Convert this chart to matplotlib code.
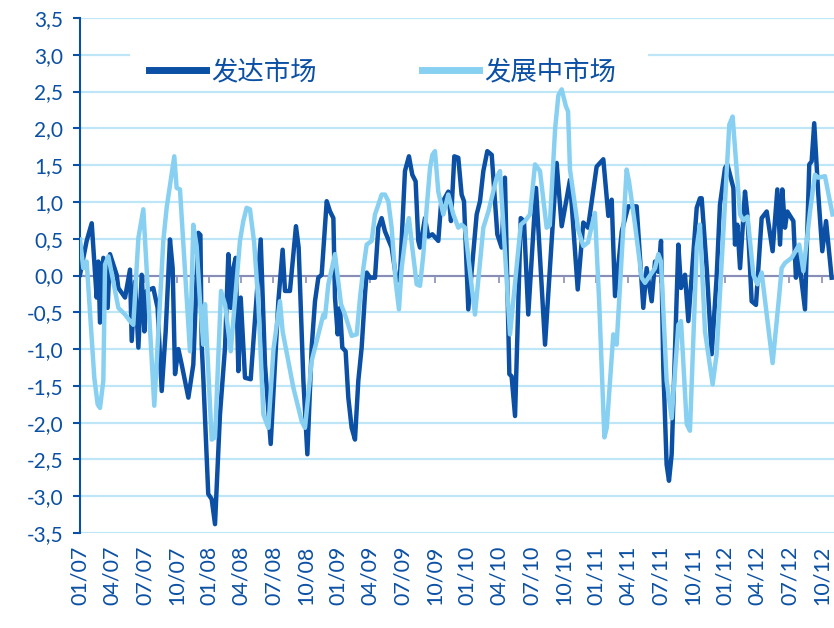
import matplotlib

matplotlib.use("Agg")
import matplotlib.pyplot as plt
import numpy as np
from matplotlib.patches import Rectangle

plt.rcParams["font.family"] = ["Lato", "Noto Sans CJK SC", "DejaVu Sans"]
plt.rcParams["axes.unicode_minus"] = False

DARK = "#0b50a4"
LIGHT = "#88d0f2"
GRID = "#bfe6f7"
ZERO = "#8a8db5"

# months since Jan 2007
dev_month = [
    0.0, 0.62, 1.09, 1.55, 1.71, 1.86, 2.17, 2.57, 2.79, 3.41, 3.57, 4.19, 4.65, 4.81,
    5.12, 5.43, 5.74, 5.99, 6.2, 6.82, 7.22, 7.6, 7.97, 8.37, 8.62, 8.84, 9.15, 9.46,
    10.08, 10.54, 11.01, 11.2, 11.32, 11.47, 11.93, 12.25, 12.56, 13.02, 13.49, 13.8,
    14.02, 14.26, 14.48, 14.73, 14.95, 15.35, 15.88, 16.81, 17.21, 17.74, 18.45, 18.85,
    19.07, 19.53, 20.09, 20.34, 20.78, 21.15, 21.55, 21.86, 22.17, 22.48, 22.95, 23.26,
    23.57, 23.72, 23.97, 24.19, 24.4, 24.71, 24.96, 25.27, 25.58, 25.89, 26.2, 26.51,
    26.67, 26.98, 27.44, 27.75, 28.06, 28.37, 28.99, 29.46, 29.77, 30.23, 30.6, 30.91,
    31.22, 31.47, 31.63, 32.09, 32.4, 32.78, 33.33, 33.58, 34.26, 34.51, 34.82, 35.19,
    35.5, 35.72, 36.12, 36.9, 37.21, 37.52, 37.89, 38.3, 38.82, 39.22, 39.53, 39.94,
    40.15, 40.47, 41.0, 41.3, 41.7, 42.42, 43.26, 44.34, 44.81, 45.58, 46.3, 46.82,
    47.26, 48.06, 48.68, 49.15, 49.46, 49.77, 50.4, 51.0, 51.78, 52.4,
    52.71, 53.18, 53.49, 53.8, 54.05, 54.26, 54.57, 54.79, 55.04, 55.66, 55.91, 56.28,
    56.59, 57.37, 57.67, 57.83, 58.05, 58.3, 58.76, 59.22, 59.53, 60.0, 60.22, 60.78,
    60.93, 61.15, 61.4, 61.86, 62.08, 62.48, 62.88, 63.41, 63.88, 64.43, 64.87, 65.12,
    65.33, 65.58, 65.8, 66.36, 66.6, 66.82, 67.44, 67.84, 68.06, 68.3, 68.68, 69.05,
    69.4, 69.92,
]
dev_value = [
    0.01, 0.47, 0.71, -0.3, 0.19, -0.64, 0.24, -0.44, 0.29, 0.01, -0.17, -0.3, 0.08, -0.89,
    -0.08, -0.98, 0.01, -0.76, -0.21, -0.17, -0.44, -1.57, -0.76, 0.49, 0.1, -1.34, -1.0, -1.21,
    -1.66, -1.21, 0.58, 0.55, -0.94, -1.39, -2.97, -3.04, -3.38, -1.89, -0.98, 0.29,
    -0.44, 0.1, 0.24, -1.3, -0.3, -1.39, -1.41, 0.49, -1.21, -2.29, -0.35, 0.35,
    -0.21, -0.21, 0.67, 0.38, -1.43, -2.43, -0.98, -0.35, -0.03, 0.01, 1.01, 0.87,
    0.78, -0.3, -0.8, -0.44, -0.98, -1.03, -1.66, -2.07, -2.23, -1.43, -0.98, -0.26,
    0.04, -0.03, -0.03, 0.65, 0.78, 0.6, 0.38, -0.08, 0.01, 1.42, 1.62, 1.37,
    1.28, 0.47, 0.38, 0.78, 0.53, 0.56, 0.47, 0.96, 1.14, 0.74, 1.62, 1.6,
    1.1, 1.01, -0.46, 0.83, 1.01, 1.42, 1.69, 1.64, 0.56, 0.38, 1.33, -1.34,
    -1.37, -1.91, 0.78, 0.74, -0.53, 1.19, -0.94, 1.53, 0.67, 1.3, -0.19, 0.72,
    0.65, 1.48, 1.58, 0.81, 1.03, -0.28, 0.6, 0.94, 0.94, -0.44,
    0.1, -0.35, 0.19, 0.05, 0.47, -1.25, -2.57, -2.79, -2.43, 0.42, -0.17, 0.01,
    -0.62, 0.92, 1.05, 1.05, 0.6, 0.1, -1.07, -0.03, 0.96, 1.46, 1.51, 1.19,
    0.42, 0.69, 0.1, 1.14, 0.83, -0.35, -0.4, 0.78, 0.87, 0.33, 1.17, 0.42,
    1.17, 0.65, 0.87, 0.74, -0.03, 0.29, -0.46, 1.51, 1.55, 2.07, 1.1, 0.33,
    0.74, -0.03,
]

emg_month = [
    0.0, 0.31, 0.62, 1.33, 1.64, 1.86, 2.17, 2.33, 2.64, 3.26, 3.57, 4.19, 4.65, 4.96,
    5.43, 5.89, 6.91, 7.75, 8.06, 8.77, 8.99, 9.3, 10.23, 10.54, 10.85, 11.16, 11.47,
    11.63, 12.25, 12.56, 13.12, 13.5, 14.02, 14.88, 15.19, 15.5, 15.81, 16.2, 16.6,
    17.06, 17.52, 18.0, 18.6, 18.85, 19.84, 20.62, 20.93, 21.55, 22.17, 22.64, 22.79,
    23.1, 23.72, 24.28, 24.65, 25.27, 25.74, 26.05, 26.36, 26.67, 27.13, 27.44, 27.75,
    28.06, 28.37, 28.68, 28.99, 29.36, 29.67, 29.92, 30.39, 30.6, 30.91, 31.32, 31.63,
    31.94, 32.25, 32.56, 32.78, 33.02, 33.33, 33.8, 34.26, 34.73, 35.19, 35.5, 35.81,
    36.74, 37.52, 37.99, 38.76, 39.07, 40.0, 41.0, 41.4, 41.86, 42.33, 42.79, 43.41,
    43.7, 44.2, 44.5, 44.81, 45.2, 45.4, 45.58, 46.0, 46.35, 46.82, 47.26, 47.6, 47.9,
    48.3, 48.78, 49.0, 49.61, 49.92, 50.85, 51.07, 51.63, 52.25, 52.56, 53.49, 53.8, 54.05,
    54.57, 55.04, 55.66, 55.91, 56.44, 56.74, 57.37, 57.67, 58.14, 58.85, 59.22, 60.4,
    60.71, 61.4, 61.7, 62.1, 62.64, 63.01, 63.41, 64.43, 65.05, 65.27, 65.58, 66.2,
    66.91, 67.29, 67.91, 68.37, 68.68, 69.3, 70.0,
]
emg_value = [
    0.49, 0.1, 0.19, -1.39, -1.75, -1.8, -1.43, 0.15, 0.26, -0.21, -0.44, -0.53, -0.62, -0.67,
    0.51, 0.9, -1.77, 0.47, 0.92, 1.62, 1.19, 1.17, -1.03, 0.69, 0.4, -0.35, -0.94,
    -0.39, -2.23, -2.2, -0.21, -0.4, -1.03, 0.47, 0.74, 0.92, 0.9, 0.45, -0.4,
    -1.89, -2.07, -1.0, -0.35, -0.76, -1.52, -1.98, -2.07, -1.16, -0.8, -0.53, -0.57,
    -0.12, 0.29, -0.39, -0.53, -0.82, -0.8, -0.3, 0.1, 0.42, 0.47, 0.83, 0.96,
    1.1, 1.1, 1.01, 0.65, -0.08, -0.46, 0.1, 0.65, 0.78, 0.38, -0.12, -0.14,
    0.29, 0.92, 1.46, 1.64, 1.69, 1.14, 0.83, 1.1, 0.83, 0.65, 0.69, 0.65,
    -0.53, 0.65, 0.87, 1.33, 1.42, -0.8, 0.69, 0.74, 0.83, 1.51, 1.42, 0.65,
    0.68, 2.0, 2.45, 2.53, 2.3, 2.23, 1.44, 1.0, 0.62, 0.4, 0.45, 0.67, 0.85,
    -0.37, -2.2, -2.07, -0.8, -0.94, 1.44, 1.28, 0.69, -0.03, -0.1, 0.1, 0.29, 0.19,
    -1.43, -1.94, -0.67, -0.62, -2.02, -2.11, 0.38, 0.69, -0.76, -1.48, -1.07, 2.05,
    2.16, 0.83, 0.75, 0.8, 0.01, -0.12, 0.04, -1.19, -0.26, 0.1, 0.17, 0.24,
    0.42, 0.06, 0.87, 1.37, 1.33, 1.35, 0.83,
]

tick_labels = [
    "01/07", "04/07", "07/07", "10/07", "01/08", "04/08", "07/08", "10/08",
    "01/09", "04/09", "07/09", "10/09", "01/10", "04/10", "07/10", "10/10",
    "01/11", "04/11", "07/11", "10/11", "01/12", "04/12", "07/12", "10/12",
]
tick_pos = np.arange(len(tick_labels)) * 3
y_ticks = np.arange(-3.5, 3.51, 0.5)

fig = plt.figure(figsize=(8.34, 6.28), dpi=100)
ax = fig.add_axes([80 / 834, 1 - 533 / 628, 754 / 834, 515 / 628])
ax.set_xlim(0, 70.14)
ax.set_ylim(-3.5, 3.5)

ax.plot(dev_month, dev_value, color=DARK, lw=3.2, label="发达市场", zorder=3,
        solid_joinstyle="round")
ax.plot(emg_month, emg_value, color=LIGHT, lw=3.2, label="发展中市场", zorder=4,
        solid_joinstyle="round")
ax.axhline(0, color=ZERO, lw=1.5, zorder=2)

ax.set_yticks(y_ticks)
ax.set_yticklabels([f"{v:.1f}".replace(".", ",") for v in y_ticks])
ax.yaxis.grid(True, color=GRID, lw=1.6)
ax.set_axisbelow(True)
for side in ["top", "right", "bottom"]:
    ax.spines[side].set_visible(False)
ax.spines["left"].set_color(DARK)
ax.spines["left"].set_linewidth(1.5)
ax.tick_params(axis="y", direction="out", length=5, width=1.5, color=DARK,
               labelcolor=DARK, labelsize=15, pad=7)

ax.set_xticks(tick_pos)
ax.set_xticklabels(tick_labels, rotation=90)
ax.tick_params(axis="x", length=0, labelcolor=DARK, labelsize=15.5, pad=9)

# small tick marks hanging from the zero line
zero_ax = ax.secondary_xaxis(0.4999)
zero_ax.set_xticks(tick_pos)
zero_ax.set_xticklabels([])
zero_ax.tick_params(direction="out", length=5, width=1.2, color=ZERO)
for sp in zero_ax.spines.values():
    sp.set_visible(False)

# white panel behind the legend hides the 3,0 grid line
ax.add_patch(Rectangle((50 / 754, (533 - 88) / 515), 518 / 754, 40 / 515,
                       transform=ax.transAxes, facecolor="white", edgecolor="none",
                       zorder=1))

leg = ax.legend(loc="center left", bbox_to_anchor=(69 / 754, (533 - 72) / 515), ncol=2,
                frameon=False, prop={"family": ["Noto Sans CJK SC"], "size": 19},
                handlelength=2.16, handletextpad=0.2, columnspacing=4.0,
                borderpad=0, borderaxespad=0)
for t in leg.get_texts():
    t.set_color(DARK)
for ln in leg.get_lines():
    ln.set_linewidth(5)

fig.savefig("out.png", dpi=100, facecolor="white")
